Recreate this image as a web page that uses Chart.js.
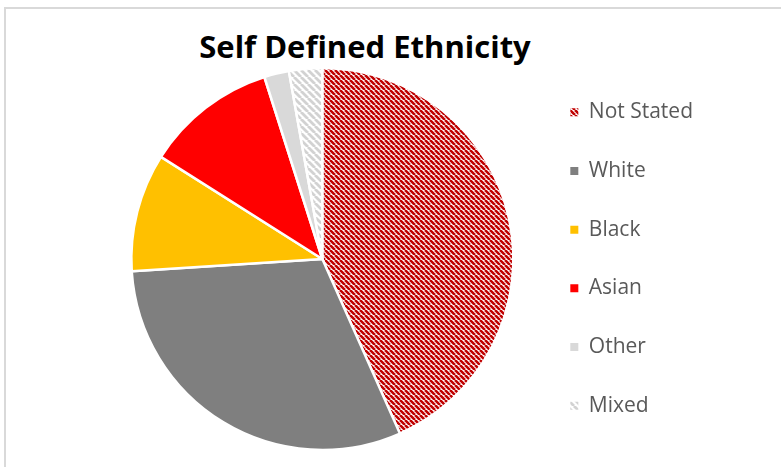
<!DOCTYPE html>
<html>
<head>
<meta charset="utf-8">
<script src="https://cdn.jsdelivr.net/npm/chart.js@4"></script>
<style>
  html, body { margin: 0; padding: 0; background: #ffffff; overflow: hidden; }
  #wrap { position: relative; width: 781px; height: 467px; }
  #frame { position: absolute; left: 4px; top: 7px; width: 800px; height: 480px;
           border-top: 2px solid #d9d9d9; border-left: 2px solid #d9d9d9; }
  #title { position: absolute; left: 0; top: 25px; width: 730px; margin: 0;
           text-align: center; font-family: 'Open Sans', sans-serif; font-weight: 700;
           font-size: 31px; line-height: normal; color: #000000; }
  #chart { position: absolute; left: 0; top: 0; }
</style>
</head>
<body>
<div id="wrap">
  <div id="frame"></div>
  <h1 id="title">Self Defined Ethnicity</h1>
  <canvas id="chart" width="781" height="467"></canvas>
</div>
<script>
// Ethnicity breakdown, percent of respondents (clockwise from 12 o'clock)
const categories = ['Not Stated', 'White', 'Black', 'Asian', 'Other', 'Mixed'];
const shares = [43.3, 30.6, 10.0, 11.1, 2.1, 2.8];

// Diagonal hatch fill ("\" direction) used for the patterned slices
function hatch(bg, fg, period, lineWidth) {
  const tile = document.createElement('canvas');
  tile.width = tile.height = period;
  const g = tile.getContext('2d');
  g.fillStyle = bg;
  g.fillRect(0, 0, period, period);
  g.strokeStyle = fg;
  g.lineWidth = lineWidth;
  g.beginPath();
  for (let k = -1; k <= 1; k++) {
    g.moveTo(k * period, 0);
    g.lineTo(k * period + period, period);
  }
  g.stroke();
  return g.createPattern(tile, 'repeat');
}

const sliceFills = [
  hatch('#ffffff', '#c00000', 5, 2.6),
  '#7f7f7f',
  '#ffc000',
  '#ff0000',
  '#d9d9d9',
  hatch('#ffffff', '#d2d2d2', 7, 2.8)
];

new Chart(document.getElementById('chart'), {
  type: 'pie',
  data: {
    labels: categories,
    datasets: [{
      data: shares,
      backgroundColor: sliceFills,
      borderColor: '#ffffff',
      borderWidth: 2.5,
      hoverOffset: 0
    }]
  },
  options: {
    responsive: false,
    animation: false,
    events: [],
    radius: 191,
    layout: { padding: { left: 112, right: 78, top: 60, bottom: 9 } },
    plugins: {
      title: { display: false },
      tooltip: { enabled: false },
      legend: {
        position: 'right',
        labels: {
          boxWidth: 8,
          boxHeight: 8,
          padding: 37.66,
          color: '#595959',
          font: { family: 'Open Sans', size: 21 },
          generateLabels(chart) {
            const items = Chart.overrides.pie.plugins.legend.labels.generateLabels(chart);
            return items.map(it => Object.assign(it, { lineWidth: 0 }));
          }
        }
      }
    }
  }
});
</script>
</body>
</html>
